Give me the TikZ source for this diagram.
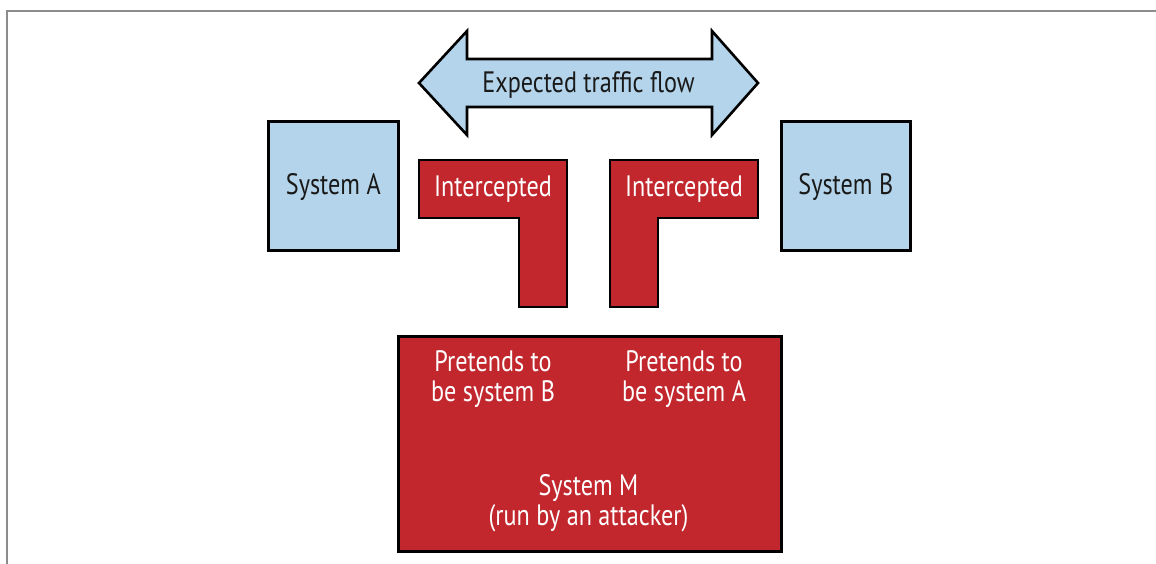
\documentclass[tikz,border=0pt]{standalone}
\usepackage{fontspec}
\setmainfont[FakeStretch=0.82]{PT Sans}
\definecolor{lblue}{HTML}{B3D4EA}
\definecolor{mred}{HTML}{C1272D}
\definecolor{framegray}{HTML}{8C8C8C}
\begin{document}
\begin{tikzpicture}[x=1pt,y=-1pt,
  outlined/.style={draw=black,line width=2.6pt,line join=miter},
  bluebox/.style={outlined,fill=lblue},
  redbox/.style={outlined,fill=mred},
  dark/.style={font=\fontsize{29.5}{30}\selectfont,text=black!90,align=center,inner sep=0pt},
  light/.style={font=\fontsize{29.5}{30}\selectfont,text=white,align=center,inner sep=0pt}]
\useasboundingbox (0,0) rectangle (1156,563);
\draw[framegray,line width=2pt] (7,564) -- (7,11) -- (1157,11);
% arrow
\draw[bluebox] (419,83) -- (467,31) -- (467,59) -- (712,59) -- (712,31) -- (758,83)
  -- (712,135) -- (712,107) -- (467,107) -- (467,135) -- cycle;
\node[dark] (flow) at (588.5,85) {Expected traffic flow};
% systems
\node[bluebox,minimum width=130pt,minimum height=129pt,inner sep=0pt,anchor=north west] (A) at (267,120) {};
\node[dark] at ([yshift=-1pt]A.center) {System A};
\node[bluebox,minimum width=129pt,minimum height=129pt,inner sep=0pt,anchor=north west] (B) at (780,120) {};
\node[dark] at ([yshift=-1pt]B.center) {System B};
% intercepted L shapes
\draw[redbox] (419,160) -- (567,160) -- (567,307) -- (519,307) -- (519,218) -- (419,218) -- cycle;
\node[light] (i1) at (493,189) {Intercepted};
\draw[redbox] (610,160) -- (758,160) -- (758,218) -- (658,218) -- (658,307) -- (610,307) -- cycle;
\node[light] (i2) at (684,189) {Intercepted};
% system M
\node[redbox,minimum width=383pt,minimum height=215pt,inner sep=0pt,anchor=north west] (M) at (397,335) {};
\node[light] (pb) at (493,379) {Pretends to\\be system B};
\node[light] (pa) at (684,379) {Pretends to\\be system A};
\node[light] (sm) at (588.5,503) {System M\\(run by an attacker)};
\end{tikzpicture}
\end{document}
